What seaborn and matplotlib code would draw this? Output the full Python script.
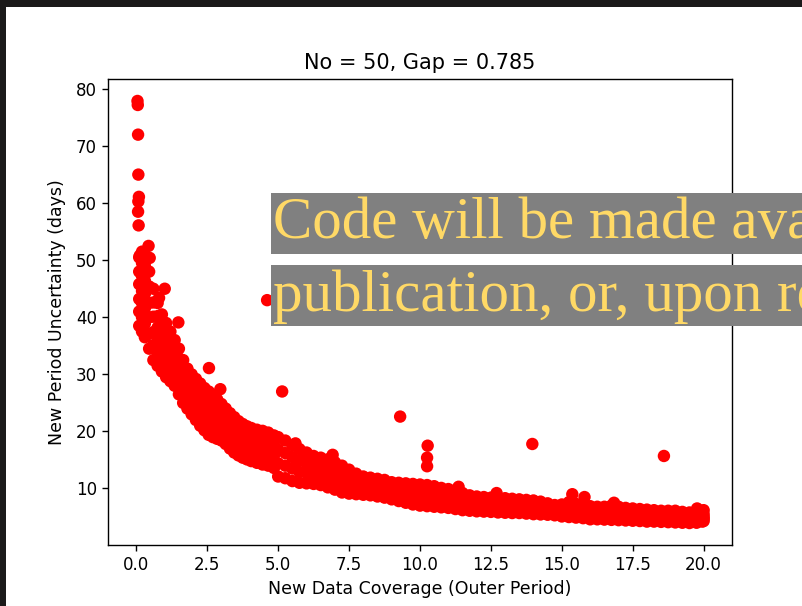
import matplotlib
matplotlib.use("Agg")
import matplotlib.pyplot as plt
from matplotlib.patches import Rectangle
import seaborn as sns
import pandas as pd

# ---------------- data ----------------
title = "No = 50, Gap = 0.785"
xlabel = "New Data Coverage (Outer Period)"
ylabel = "New Period Uncertainty (days)"
overlay_lines = ["Code will be made available upon", "publication, or, upon request."]

xticks = [0.0, 2.5, 5.0, 7.5, 10.0, 12.5, 15.0, 17.5, 20.0]
yticks = [10, 20, 30, 40, 50, 60, 70, 80]

# steep left part of the cloud: column positions and six rows of points
left_x = [0.1, 0.2, 0.3, 0.45, 0.6, 0.75, 0.9, 1.05, 1.2, 1.35,
          1.5, 1.65, 1.8, 1.95, 2.1, 2.25, 2.4, 2.55, 2.7, 2.85,
          3.0, 3.15, 3.3, 3.45, 3.6, 3.75, 3.9, 4.05, 4.25, 4.45,
          4.65, 4.85]
left_lo = [38.5, 37.5, 36.5, 34.5, 32.5, 31.5, 30.5, 29.5, 28.8, 28.0,
           26.5, 25.0, 24.0, 23.0, 22.0, 21.0, 20.2, 19.4, 19.0, 18.7,
           18.4, 17.8, 17.0, 16.3, 15.8, 15.4, 15.1, 14.8, 14.5, 14.2,
           14.0, 13.6]
left_m1 = [41.0, 40.0, 38.9, 37.1, 35.1, 33.8, 32.4, 31.5, 30.6, 29.5,
           28.2, 26.4, 25.5, 24.3, 23.5, 22.4, 21.6, 21.0, 20.4, 20.0,
           19.8, 19.1, 18.3, 17.6, 16.9, 16.7, 16.2, 16.0, 15.6, 15.3,
           15.1, 14.8]
left_m2 = [43.2, 42.5, 41.6, 40.0, 37.4, 35.8, 34.6, 33.2, 32.2, 31.3,
           29.6, 28.1, 26.7, 25.9, 24.8, 24.1, 23.3, 22.3, 22.1, 21.6,
           20.9, 20.2, 19.4, 18.7, 18.3, 17.7, 17.5, 17.2, 16.9, 16.6,
           16.4, 15.8]
left_m3 = [45.8, 44.6, 44.1, 42.5, 40.1, 38.2, 36.4, 35.3, 34.1, 32.7,
           31.4, 29.4, 28.3, 27.1, 26.4, 25.3, 24.5, 24.1, 23.3, 22.7,
           22.3, 21.6, 20.8, 20.1, 19.3, 19.0, 18.5, 18.2, 17.9, 17.8,
           17.4, 17.1]
left_m4 = [48.0, 47.2, 46.4, 45.4, 42.6, 40.2, 38.6, 37.0, 35.7, 34.5,
           32.8, 31.1, 29.5, 28.7, 27.7, 27.0, 26.2, 25.4, 25.0, 24.3,
           23.4, 22.7, 21.9, 21.2, 20.7, 20.0, 19.8, 19.5, 19.2, 18.8,
           18.7, 18.1]
left_hi = [50.5, 49.5, 49.0, 48.0, 45.0, 42.5, 40.5, 39.0, 37.5, 36.0,
           34.5, 32.5, 31.0, 30.0, 29.2, 28.4, 27.6, 27.0, 26.4, 25.6,
           24.8, 24.0, 23.2, 22.5, 21.8, 21.3, 20.9, 20.6, 20.3, 20.1,
           19.8, 19.3]

# flatter right part of the cloud: columns and four rows of points
right_x = [5.0, 5.25, 5.5, 5.75, 6.0, 6.25, 6.5, 6.75, 7.0, 7.25,
           7.5, 7.75, 8.0, 8.25, 8.5, 8.75, 9.0, 9.25, 9.5, 9.75,
           10.0, 10.25, 10.5, 10.75, 11.0, 11.25, 11.5, 11.75, 12.0, 12.25,
           12.5, 12.75, 13.0, 13.25, 13.5, 13.75, 14.0, 14.25, 14.5, 14.75,
           15.0, 15.25, 15.5, 15.75, 16.0, 16.25, 16.5, 16.75, 17.0, 17.25,
           17.5, 17.75, 18.0, 18.25, 18.5, 18.75, 19.0, 19.25, 19.5, 19.75,
           20.0]
right_lo = [12.1, 11.8, 11.3, 11.0, 10.9, 10.8, 10.6, 10.2, 9.8, 9.3,
            9.1, 9.0, 8.9, 8.8, 8.6, 8.4, 8.1, 7.8, 7.5, 7.2,
            7.0, 6.9, 6.8, 6.7, 6.6, 6.4, 6.2, 6.1, 6.0, 5.95,
            5.9, 5.8, 5.75, 5.7, 5.7, 5.6, 5.5, 5.45, 5.4, 5.3,
            5.1, 5.0, 4.9, 4.8, 4.6, 4.6, 4.55, 4.5, 4.45, 4.4,
            4.35, 4.3, 4.2, 4.2, 4.15, 4.1, 4.05, 4.0, 3.95, 4.0,
            4.3]
right_m1 = [14.4, 14.0, 13.5, 12.9, 12.7, 12.4, 12.2, 11.8, 11.4, 10.9,
            10.5, 10.2, 10.0, 9.8, 9.6, 9.4, 9.1, 8.9, 8.6, 8.4,
            8.2, 8.1, 8.0, 7.8, 7.7, 7.5, 7.2, 7.0, 6.9, 6.8,
            6.7, 6.65, 6.6, 6.5, 6.5, 6.4, 6.3, 6.2, 6.1, 5.9,
            5.8, 5.9, 5.7, 5.5, 5.4, 5.3, 5.3, 5.3, 5.2, 5.1,
            5.05, 5.0, 4.9, 4.9, 4.8, 4.8, 4.7, 4.6, 4.6, 4.6,
            4.7]
right_m2 = [16.8, 16.2, 15.5, 14.9, 14.4, 14.0, 13.7, 13.4, 13.0, 12.4,
            11.9, 11.4, 11.0, 10.9, 10.7, 10.5, 10.1, 9.9, 9.8, 9.6,
            9.5, 9.4, 9.2, 9.0, 8.8, 8.6, 8.2, 7.9, 7.7, 7.6,
            7.6, 7.5, 7.45, 7.4, 7.3, 7.2, 7.1, 6.95, 6.7, 6.5,
            6.5, 6.7, 6.5, 6.3, 6.1, 6.0, 6.0, 6.1, 6.0, 5.9,
            5.8, 5.7, 5.6, 5.5, 5.5, 5.4, 5.4, 5.3, 5.2, 5.2,
            5.0]
right_hi = [19.0, 18.4, 17.6, 16.9, 16.3, 15.7, 15.4, 15.1, 14.6, 14.0,
            13.3, 12.6, 12.1, 11.9, 11.7, 11.5, 11.1, 11.0, 10.9, 10.8,
            10.7, 10.6, 10.4, 10.1, 9.9, 9.7, 9.2, 8.8, 8.6, 8.5,
            8.4, 8.3, 8.3, 8.2, 8.1, 8.0, 7.9, 7.7, 7.4, 7.1,
            7.2, 7.6, 7.3, 7.0, 6.9, 6.8, 6.8, 7.0, 6.8, 6.6,
            6.5, 6.4, 6.3, 6.2, 6.1, 6.1, 6.1, 5.9, 5.8, 5.8,
            5.5]

# isolated points and bumps on the edge of the cloud
out_x = [0.04, 0.05, 0.06, 0.07, 0.09, 0.07, 0.06, 0.08, 0.43, 0.12,
         0.47, 1.0, 0.8, 1.48, 2.56, 2.96, 4.61, 5.14, 9.3, 10.27,
         10.25, 10.25, 13.96, 18.6, 19.77, 15.37, 15.8, 16.84, 12.7, 11.36,
         6.92, 5.61, 20.0, 19.95, 0.2]
out_y = [77.9, 77.2, 72.0, 65.0, 61.1, 60.3, 58.5, 56.1, 52.5, 50.8,
         50.4, 45.0, 43.4, 39.1, 31.1, 27.4, 43.0, 27.0, 22.6, 17.5,
         15.4, 13.9, 17.8, 15.7, 6.5, 9.0, 8.5, 7.5, 9.2, 10.3,
         15.9, 17.9, 6.2, 4.2, 51.5]

# ---------------- assemble table ----------------
frames = []
for ys in (left_lo, left_m1, left_m2, left_m3, left_m4, left_hi):
    frames.append(pd.DataFrame({"x": left_x, "y": ys}))
for ys in (right_lo, right_m1, right_m2, right_hi):
    frames.append(pd.DataFrame({"x": right_x, "y": ys}))
frames.append(pd.DataFrame({"x": out_x, "y": out_y}))
df = pd.concat(frames, ignore_index=True)

# ---------------- figure ----------------
W, H = 803, 606
fig = plt.figure(figsize=(W / 100, H / 100), dpi=100)
fig.patch.set_facecolor("#1b1a1a")
# white page of the screenshot
fig.add_artist(Rectangle((6 / W, 0), 1 - 6 / W, (H - 7) / H,
                         transform=fig.transFigure, facecolor="white",
                         edgecolor="none", zorder=0))

ax = fig.add_axes([108 / W, (H - 545) / H, 624 / W, 466 / H])
ax.set_facecolor("white")
sns.scatterplot(data=df, x="x", y="y", ax=ax, color="#ff0000", s=80,
                linewidth=0, edgecolor="none", legend=False)

ax.set_xlim(-1.0, 21.0)
ax.set_ylim(0.1, 81.75)
ax.set_xticks(xticks)
ax.set_xticklabels([f"{t:.1f}" for t in xticks])
ax.set_yticks(yticks)
ax.set_yticklabels([str(t) for t in yticks])
ax.tick_params(labelsize=12, length=4.5, width=1.0, colors="black")
for sp in ax.spines.values():
    sp.set_linewidth(1.0)
    sp.set_color("black")
ax.set_xlabel(xlabel, fontsize=12.5, labelpad=4)
ax.set_ylabel(ylabel, fontsize=12.5, labelpad=7)
ax.set_title(title, fontsize=15, pad=7)

# overlay banner (two grey line boxes with yellow serif text)
box_col = "#808080"
txt_col = "#ffd966"
for i, (top, base) in enumerate([(193, 238), (265, 311)]):
    fig.add_artist(Rectangle((271 / W, (H - top - 61) / H), 1 - 271 / W, 61 / H,
                             transform=fig.transFigure, facecolor=box_col,
                             edgecolor="none", zorder=10))
    fig.text(273 / W, (H - base) / H, overlay_lines[i], fontsize=42.5,
             family="Liberation Serif", color=txt_col, ha="left",
             va="baseline", zorder=11)

fig.savefig("out.png", dpi=100, facecolor=fig.get_facecolor())
